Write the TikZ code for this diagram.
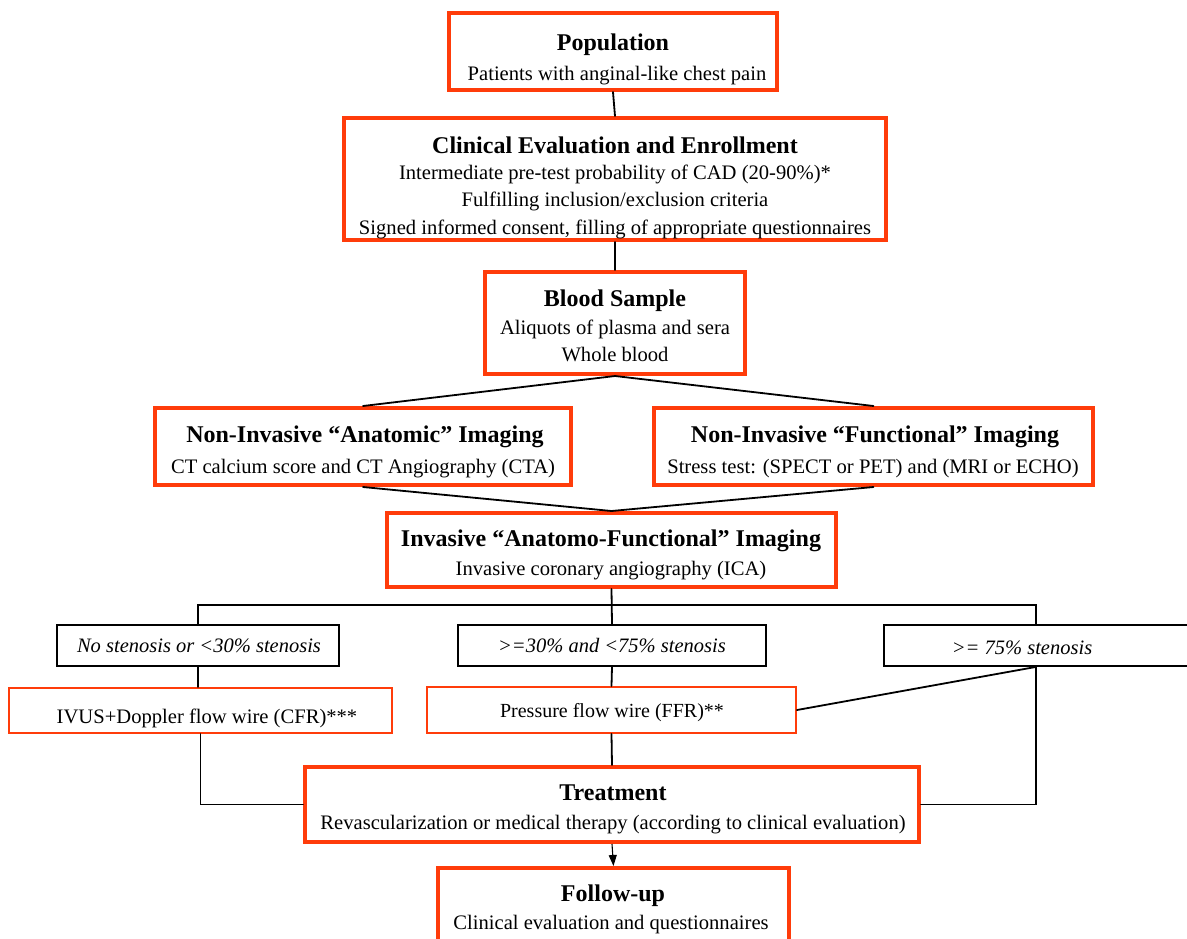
\documentclass[tikz,border=0pt]{standalone}
\usepackage{fontspec}
\setmainfont{Liberation Serif}
\usetikzlibrary{arrows.meta}
\definecolor{orng}{RGB}{255,60,10}
\begin{document}
\begin{tikzpicture}[x=1pt,y=-1pt,
  bigbox/.style={draw=orng, line width=4pt, fill=white, inner sep=0, minimum width=#1},
  smallbox/.style={draw=orng, line width=2pt, fill=white, inner sep=0},
  blackbox/.style={draw=black, line width=1.8pt, fill=white, inner sep=0},
  conn/.style={line width=1.8pt, line cap=round},
  ttl/.style={font=\fontsize{24}{28}\selectfont\bfseries, anchor=base, inner sep=0},
  sub/.style={font=\fontsize{20.6}{27}\selectfont, anchor=base, inner sep=0},
  itl/.style={font=\fontsize{20.5}{25}\selectfont\itshape, anchor=base, inner sep=0},
]
\useasboundingbox (0,0) rectangle (1187,938);

\coordinate (split) at (612,605);

% boxes
\node[bigbox=328pt, minimum height=77pt] (pop) at (613,51.5) {};
\node[bigbox=542pt, minimum height=122pt] (clin) at (615,179) {};
\node[bigbox=260pt, minimum height=102pt] (blood) at (615,323) {};
\node[bigbox=416pt, minimum height=77pt] (anat) at (363,446.5) {};
\node[bigbox=439pt, minimum height=77pt] (func) at (873.5,446.5) {};
\node[bigbox=449pt, minimum height=74pt] (inv) at (611.5,550) {};
\node[blackbox, minimum width=282pt, minimum height=41pt] (no) at (198,645.5) {};
\node[blackbox, minimum width=308pt, minimum height=41pt] (mid) at (612,645.5) {};
\node[blackbox, minimum width=304pt, minimum height=41pt] (hi) at (1036,645.5) {};
\node[smallbox, minimum width=383pt, minimum height=45pt] (ivus) at (200.5,710.5) {};
\node[smallbox, minimum width=369pt, minimum height=46pt] (press) at (611.5,710) {};
\node[bigbox=614pt, minimum height=75pt] (treat) at (612,804.5) {};
\node[bigbox=351pt, minimum height=80pt] (fol) at (613.5,908) {};

% connectors
\draw[conn] (pop.south) -- (clin.north);
\draw[conn] (clin.south) -- (blood.north);
\draw[conn] (blood.south) -- (anat.north);
\draw[conn] (blood.south) -- (func.north);
\draw[conn] (anat.south) -- (inv.north);
\draw[conn] (func.south) -- (inv.north);
\draw[conn] (inv.south) -- (mid.north);
\draw[conn] (no.north) |- (split) -| (hi.north);
\draw[conn] (no.south) -- (no.south |- ivus.north);
\draw[conn] (mid.south) -- (press.north);
\draw[conn] (hi.south) -- (press.east);
\draw[conn] (ivus.south) |- (treat.west);
\draw[conn] (hi.south) |- (treat.east);
\draw[conn] (press.south) -- (treat.north);
\draw[line width=1.1pt, -{Triangle[length=11pt,width=8pt]}] (treat.south) -- (fol.north);

% texts
\node[ttl] (popT) at (613,50) {Population};
\node[sub] (popS) at (617,80) {Patients with anginal-like chest pain};

\node[ttl] (clinT) at (615,153) {Clinical Evaluation and Enrollment};
\node[sub] (clinS1) at (615,179) {Intermediate pre-test probability of CAD (20-90\%)*};
\node[sub] (clinS2) at (615,206) {Fulfilling inclusion/exclusion criteria};
\node[sub] (clinS3) at (615,234) {Signed informed consent, filling of appropriate questionnaires};

\node[ttl] (bloodT) at (615,306) {Blood Sample};
\node[sub] (bloodS1) at (615,334) {Aliquots of plasma and sera};
\node[sub] (bloodS2) at (615,361) {Whole blood};

\node[ttl] (anatT) at (365,442) {Non-Invasive “Anatomic” Imaging};
\node[sub] (anatS) at (363,473) {CT calcium score and CT Angiography (CTA)};

\node[ttl] (funcT) at (875,442) {Non-Invasive “Functional” Imaging};
\node[sub] (funcS) at (873,473) {Stress test: (SPECT or PET) and (MRI or ECHO)};

\node[ttl] (invT) at (611,546) {Invasive “Anatomo-Functional” Imaging};
\node[sub] (invS) at (611,575) {Invasive coronary angiography (ICA)};

\node[itl] (noT) at (199,652) {No stenosis or <30\% stenosis};
\node[itl] (midT) at (612,652) {>=30\% and <75\% stenosis};
\node[itl] (hiT) at (1022,654) {>= 75\% stenosis};

\node[sub] (ivusT) at (207,723) {IVUS+Doppler flow wire (CFR)***};
\node[sub, font=\fontsize{20}{24}\selectfont] (pressT) at (612,717) {Pressure flow wire (FFR)**};

\node[ttl] (treatT) at (613,800) {Treatment};
\node[sub] (treatS) at (613,829) {Revascularization or medical therapy (according to clinical evaluation)};

\node[ttl] (folT) at (613,901) {Follow-up};
\node[sub] (folS) at (611,929) {Clinical evaluation and questionnaires};
\end{tikzpicture}
\end{document}
